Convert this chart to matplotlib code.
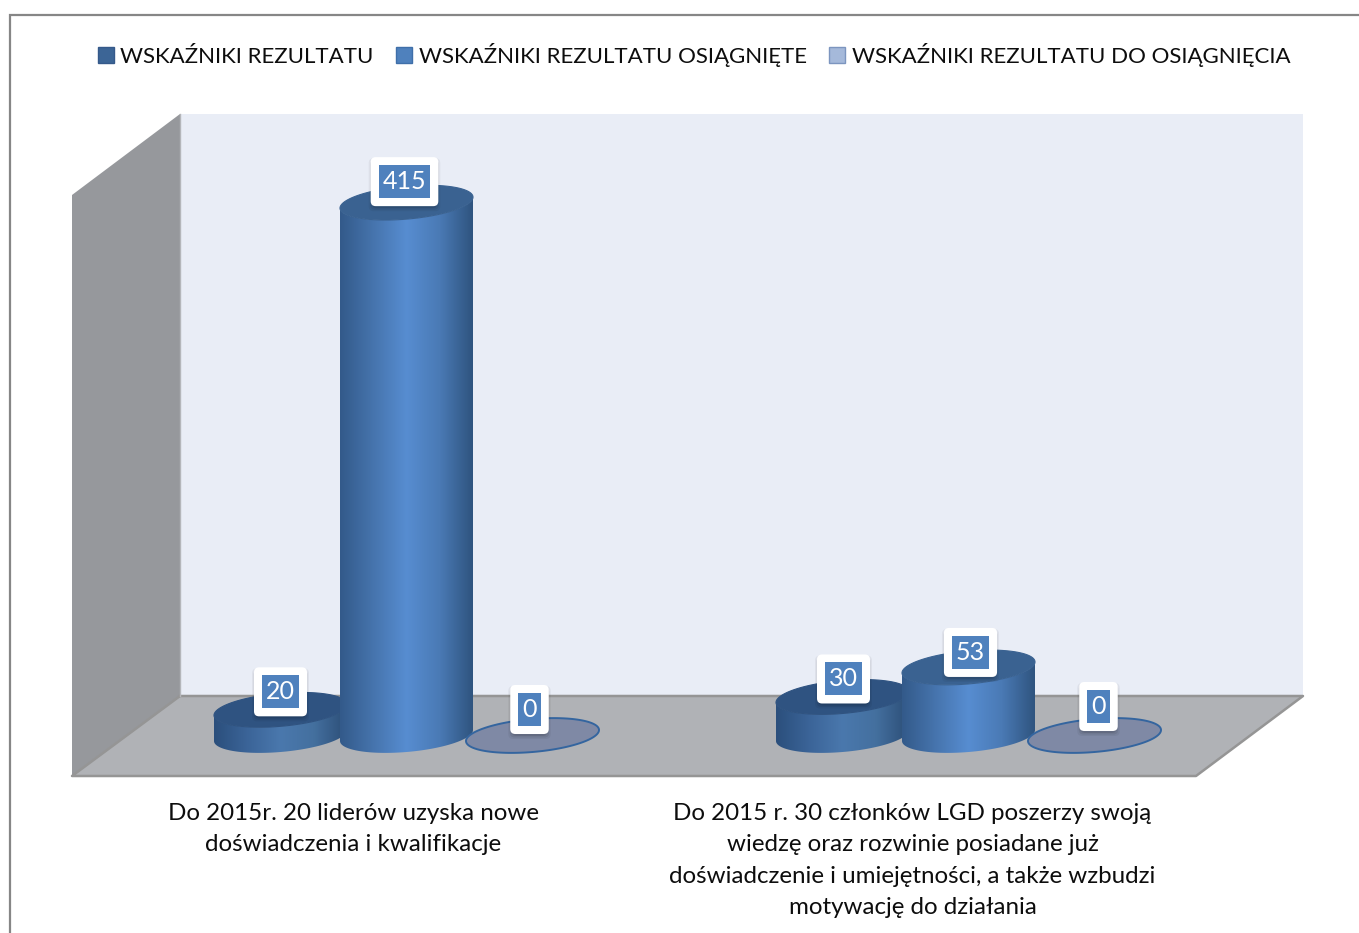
import numpy as np
import matplotlib
matplotlib.use("Agg")
import matplotlib.pyplot as plt
from matplotlib.patches import Polygon, Rectangle, FancyBboxPatch, Patch
from matplotlib.colors import LinearSegmentedColormap
from matplotlib.transforms import IdentityTransform

# ---- data ----
categories = ["Do 2015r. 20 liderów uzyska nowe\ndoświadczenia i kwalifikacje",
              "Do 2015 r. 30 członków LGD poszerzy swoją\nwiedzę oraz rozwinie posiadane już\n"
              "doświadczenie i umiejętności, a także wzbudzi\nmotywację do działania"]
series_names = ["WSKAŹNIKI REZULTATU", "WSKAŹNIKI REZULTATU OSIĄGNIĘTE", "WSKAŹNIKI REZULTATU DO OSIĄGNIĘCIA"]
rezultat = [20, 30]
osiagniete = [415, 53]
do_osiagniecia = [0, 0]

# ---- layout / style ----
W, H = 1359, 933
FONT = "Lato"
FS = 17.4
LABEL_FS = 18.0
LEG_FS = 16.0
PX_PER_VAL = 1.284
BASE_Y = 735.5
GROUP_PX = 562.0
GROUP0_X = 406.5
OFFSET = 126 / GROUP_PX
A = 66.5 / GROUP_PX
B = 16.5 / PX_PER_VAL
SHEAR = 5.5 / PX_PER_VAL
label_shift = [[(0, -18), (-2, -21), (-3, -26)], [(1, -18), (2, -15), (4, -29)]]
cat_shift = [-53, -56]
side_cmaps = [
    LinearSegmentedColormap.from_list("s0", ["#2b4f7c", "#3b6498", "#4a78ad", "#44709f", "#2c4e77"]),
    LinearSegmentedColormap.from_list("s1", ["#335a8a", "#4674ad", "#578dd1", "#4a7ab5", "#2f547f"]),
]
top_colors = ["#2f5381", "#3a6291"]
legend_colors = ["#3c6596", "#4f81bd", "#a5b9da"]
legend_edges = ["#35598a", "#3f6fa9", "#7c95bf"]
plt.rcParams["font.family"] = [FONT, "DejaVu Sans"]

fig = plt.figure(figsize=(W / 100, H / 100), dpi=100, facecolor="white")

# static box of the 3-D scene, in pixel coordinates
bg = fig.add_axes([0, 0, 1, 1])
bg.set_xlim(0, W); bg.set_ylim(H, 0); bg.axis("off")
bg.plot([9.5, 9.5, W], [H, 15, 15], color="#868686", lw=1.6, solid_joinstyle="miter")
bg.add_patch(Polygon([(180, 114), (1303, 114), (1303, 696), (180, 696)], fc="#e9edf6", ec="none"))
bg.add_patch(Polygon([(72, 195), (180, 114), (180, 696), (72, 776)], fc="#96989c", ec="none"))
bg.add_patch(Polygon([(180, 696), (1303, 696), (1196, 776), (72, 776)], fc="#b0b2b6", ec="none"))
bg.plot([180, 1303, 1196, 72, 180], [696, 696, 776, 776, 696], color="#959595", lw=1.8)
bg.plot([180, 180], [114, 696], color="#b4b6ba", lw=1)

# value axes: x in category units, y in data values
ax = fig.add_axes([0, 0, 1, 1])
ax.patch.set_alpha(0)
ax.axis("off")

t = np.linspace(0, 2 * np.pi, 241)


def ellipse(cx, cy):
    return cx + A * np.cos(t), cy + B * np.sin(t) + SHEAR * np.cos(t)


def cylinder(cx, value, i):
    lower = np.linspace(np.pi, 2 * np.pi, 121)
    bx = cx + A * np.cos(lower)
    by = B * np.sin(lower) + SHEAR * np.cos(lower)
    ty = value + by
    pts = np.r_[np.c_[bx, by], np.c_[bx[::-1], ty[::-1]]]
    poly = Polygon(pts, closed=True, fc="none", ec="none", transform=ax.transData)
    ax.add_patch(poly)
    im = ax.imshow(np.linspace(0, 1, 256)[None, :], cmap=side_cmaps[i], aspect="auto",
                   extent=[cx - A, cx + A, -B - abs(SHEAR), value + B + abs(SHEAR)], zorder=2 + 0.01 * cx)
    im.set_clip_path(poly)
    ex, ey = ellipse(cx, value)
    ax.fill(ex, ey, fc=top_colors[i], ec=top_colors[i], lw=0.8, zorder=2.001 + 0.01 * cx)


for g in range(len(categories)):
    cylinder(g - OFFSET, rezultat[g], 0)
    cylinder(g, osiagniete[g], 1)
    ex, ey = ellipse(g + OFFSET, do_osiagniecia[g])
    ax.fill(ex, ey, fc="#7f89a5", ec="#34659f", lw=1.4, zorder=2.5 + g)
ax.set_xlim(-GROUP0_X / GROUP_PX, (W - GROUP0_X) / GROUP_PX)
ax.set_ylim(-(H - BASE_Y) / PX_PER_VAL, BASE_Y / PX_PER_VAL)

# data labels: white rounded card, soft shadow, blue plate, white number
fig.canvas.draw()
renderer = fig.canvas.get_renderer()
idt = IdentityTransform()
for g in range(len(categories)):
    for s, vals in enumerate([rezultat, osiagniete, do_osiagniecia]):
        dx, dy = label_shift[g][s]
        x = g + (s - 1) * OFFSET
        txt = ax.annotate(str(vals[g]), xy=(x, vals[g]), xytext=(dx, -dy), textcoords="offset pixels",
                          ha="center", va="center", color="white", fontsize=LABEL_FS, zorder=20)
        e = txt.get_window_extent(renderer)
        cx, cy = (e.x0 + e.x1) / 2, (e.y0 + e.y1) / 2
        hw, hh = e.width / 2 + 4, 16.5
        for k, al in [(5, 0.05), (3.5, 0.07), (2, 0.10)]:
            ax.add_patch(FancyBboxPatch((cx - hw - 5, cy - hh - 5 - 3), 2 * hw + 10, 2 * hh + 10,
                                        boxstyle=f"round,pad={k},rounding_size=5", fc="black", ec="none",
                                        alpha=al, transform=idt, zorder=17))
        ax.add_patch(FancyBboxPatch((cx - hw - 5, cy - hh - 5), 2 * hw + 10, 2 * hh + 10,
                                    boxstyle="round,pad=3,rounding_size=5", fc="white", ec="none",
                                    transform=idt, zorder=18))
        ax.add_patch(Rectangle((cx - hw, cy - hh), 2 * hw, 2 * hh, fc="#4f81bd", ec="none",
                               transform=idt, zorder=19))

# category labels
for g, label in enumerate(categories):
    ax.annotate(label, xy=(g, 0), xycoords="data", xytext=(cat_shift[g], -67), textcoords="offset pixels",
                ha="center", va="top", fontsize=FS, color="#0d0d0d", linespacing=1.62)

# legend
handles = [Patch(fc=c, ec=e, lw=1) for c, e in zip(legend_colors, legend_edges)]
leg = ax.legend(handles, series_names, ncol=3, frameon=False, fontsize=LEG_FS, labelcolor="#0d0d0d",
                loc="center", bbox_to_anchor=((97 + 1291) / 2 / W, 1 - 55 / H), bbox_transform=fig.transFigure,
                handlelength=0.72, handleheight=0.72, handletextpad=0.3, columnspacing=1.0,
                borderpad=0, borderaxespad=0)

fig.savefig("out.png", dpi=100, facecolor="white")
